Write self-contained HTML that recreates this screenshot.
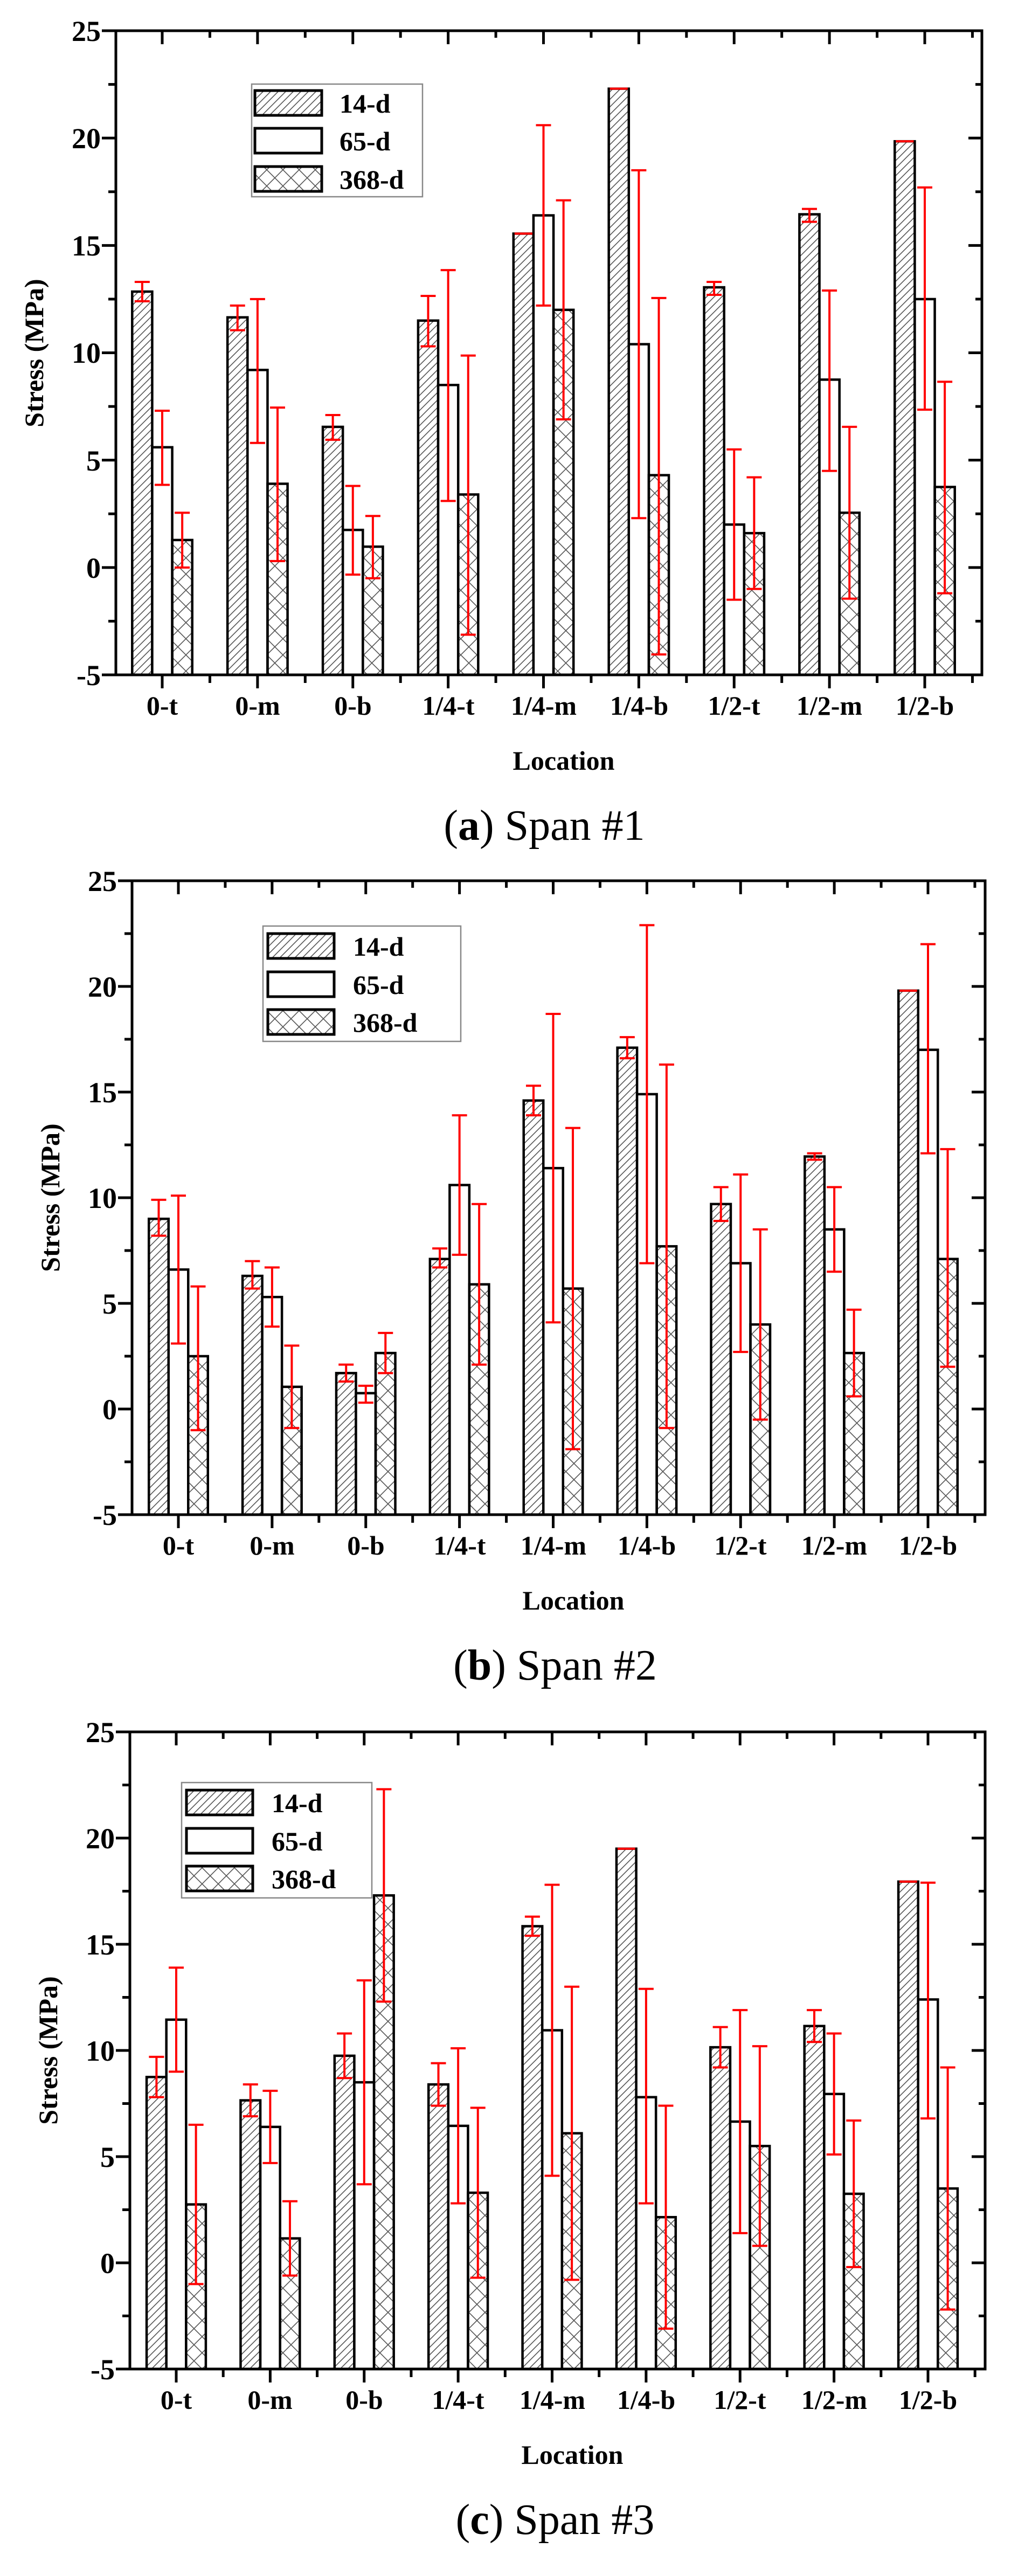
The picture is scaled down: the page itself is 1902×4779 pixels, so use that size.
<!DOCTYPE html>
<html><head><meta charset="utf-8"><style>
html,body{margin:0;padding:0;background:#fff;}
svg{display:block;}
.t{font-family:"Liberation Serif",serif;font-weight:bold;font-size:54px;fill:#000;}
.x{font-family:"Liberation Serif",serif;font-weight:bold;font-size:50px;fill:#000;}
.cap{font-family:"Liberation Serif",serif;font-size:80px;fill:#000;}
</style></head><body>
<svg id="s" width="1902" height="4779" viewBox="0 0 1902 4779" xmlns="http://www.w3.org/2000/svg">
<defs>
<pattern id="hat" patternUnits="userSpaceOnUse" width="14" height="14"><path d="M-2,16 L16,-2 M-9,9 L9,-9 M5,23 L23,5" stroke="#555" stroke-width="1.6"/></pattern>
<pattern id="crs" patternUnits="userSpaceOnUse" width="30" height="30"><path d="M0,0 L30,30 M30,0 L0,30" stroke="#555" stroke-width="1.6"/></pattern>
</defs>
<g id="g"></g>
<g class="t" text-anchor="end">
<text x="187" y="76">25</text><text x="187" y="275">20</text><text x="187" y="474">15</text><text x="187" y="673">10</text><text x="187" y="873">5</text><text x="187" y="1072">0</text><text x="187" y="1271">-5</text>
<text x="217" y="1653">25</text><text x="217" y="1849">20</text><text x="217" y="2045">15</text><text x="217" y="2241">10</text><text x="217" y="2437">5</text><text x="217" y="2633">0</text><text x="217" y="2829">-5</text>
<text x="213" y="3232">25</text><text x="213" y="3429">20</text><text x="213" y="3626">15</text><text x="213" y="3823">10</text><text x="213" y="4020">5</text><text x="213" y="4217">0</text><text x="213" y="4414">-5</text>
</g>
<g class="x" text-anchor="middle">
<text x="301" y="1326">0-t</text><text x="478" y="1326">0-m</text><text x="655" y="1326">0-b</text><text x="832" y="1326">1/4-t</text><text x="1009" y="1326">1/4-m</text><text x="1186" y="1326">1/4-b</text><text x="1362" y="1326">1/2-t</text><text x="1539" y="1326">1/2-m</text><text x="1716" y="1326">1/2-b</text>
<text x="331" y="2884">0-t</text><text x="505" y="2884">0-m</text><text x="679" y="2884">0-b</text><text x="853" y="2884">1/4-t</text><text x="1027" y="2884">1/4-m</text><text x="1200" y="2884">1/4-b</text><text x="1374" y="2884">1/2-t</text><text x="1548" y="2884">1/2-m</text><text x="1722" y="2884">1/2-b</text>
<text x="327" y="4469">0-t</text><text x="501" y="4469">0-m</text><text x="676" y="4469">0-b</text><text x="850" y="4469">1/4-t</text><text x="1025" y="4469">1/4-m</text><text x="1199" y="4469">1/4-b</text><text x="1373" y="4469">1/2-t</text><text x="1548" y="4469">1/2-m</text><text x="1722" y="4469">1/2-b</text>
<text x="1046" y="1428">Location</text>
<text x="1064" y="2986">Location</text>
<text x="1062" y="4571">Location</text>
<text transform="translate(80,655) rotate(-90)">Stress (MPa)</text>
<text transform="translate(110,2222) rotate(-90)">Stress (MPa)</text>
<text transform="translate(106,3804) rotate(-90)">Stress (MPa)</text>
</g>
<g class="x">
<text x="630" y="209">14-d</text><text x="630" y="279">65-d</text><text x="630" y="350">368-d</text>
<text x="655" y="1773">14-d</text><text x="655" y="1844">65-d</text><text x="655" y="1914">368-d</text>
<text x="504" y="3362">14-d</text><text x="504" y="3433">65-d</text><text x="504" y="3503">368-d</text>
</g>
<g class="cap" text-anchor="middle">
<text x="1010" y="1558">(<tspan font-weight="bold">a</tspan>) Span #1</text>
<text x="1030" y="3116">(<tspan font-weight="bold">b</tspan>) Span #2</text>
<text x="1030" y="4701">(<tspan font-weight="bold">c</tspan>) Span #3</text>
</g>
</svg>
<script>
(function(){
var NS="http://www.w3.org/2000/svg",g=document.getElementById("g");
function el(n,a){var e=document.createElementNS(NS,n);for(var k in a)e.setAttribute(k,a[k]);g.appendChild(e);return e;}
function line(x1,y1,x2,y2,c,w){el("line",{x1:x1,y1:y1,x2:x2,y2:y2,stroke:c,"stroke-width":w});}
var charts=[
{L:215,R:1822,T:57,B:1252,leg:[467,156,784,365,473,597,[191,261,332]],d:[
[[12.85,13.3,12.4],[5.6,7.3,3.85],[1.28,2.55,0]],
[[11.65,12.2,11.05],[9.2,12.5,5.8],[3.9,7.45,0.3]],
[[6.55,7.1,5.95],[1.75,3.8,-0.33],[0.97,2.4,-0.5]],
[[11.5,12.65,10.3],[8.5,13.85,3.1],[3.4,9.87,-3.13]],
[[15.55,15.55,15.55],[16.4,20.6,12.2],[12,17.1,6.9]],
[[22.3,22.3,22.3],[10.4,18.5,2.3],[4.3,12.55,-4.05]],
[[13.05,13.3,12.7],[2.0,5.5,-1.5],[1.6,4.2,-1.0]],
[[16.45,16.7,16.1],[8.75,12.9,4.5],[2.55,6.55,-1.45]],
[[19.85,19.85,19.85],[12.5,17.7,7.35],[3.75,8.65,-1.2]]]},
{L:245,R:1828,T:1634,B:2810,leg:[488,1718,855,1932,497,620,[1755,1826,1896]],d:[
[[9.0,9.9,8.2],[6.6,10.1,3.1],[2.5,5.8,-1.0]],
[[6.3,7.0,5.7],[5.3,6.7,3.9],[1.05,3.0,-0.9]],
[[1.7,2.1,1.3],[0.75,1.1,0.3],[2.65,3.6,1.7]],
[[7.1,7.6,6.7],[10.6,13.9,7.3],[5.9,9.7,2.1]],
[[14.6,15.3,13.9],[11.4,18.7,4.1],[5.7,13.3,-1.9]],
[[17.1,17.6,16.6],[14.9,22.9,6.9],[7.7,16.3,-0.9]],
[[9.7,10.5,8.9],[6.9,11.1,2.7],[4.0,8.5,-0.5]],
[[11.95,12.1,11.8],[8.5,10.5,6.5],[2.65,4.7,0.6]],
[[19.8,19.8,19.8],[17.0,22.0,12.1],[7.1,12.3,2.0]]]},
{L:241,R:1828,T:3213,B:4395,leg:[337,3307,690,3521,346,469,[3344,3415,3485]],d:[
[[8.75,9.7,7.8],[11.45,13.9,9.0],[2.75,6.5,-1.0]],
[[7.65,8.4,6.9],[6.4,8.1,4.7],[1.15,2.9,-0.6]],
[[9.75,10.8,8.7],[8.5,13.3,3.7],[17.3,22.3,12.3]],
[[8.4,9.4,7.4],[6.45,10.1,2.8],[3.3,7.3,-0.7]],
[[15.85,16.3,15.4],[10.95,17.8,4.1],[6.1,13.0,-0.8]],
[[19.5,19.5,19.5],[7.8,12.9,2.8],[2.15,7.4,-3.1]],
[[10.15,11.1,9.2],[6.65,11.9,1.4],[5.5,10.2,0.8]],
[[11.15,11.9,10.4],[7.95,10.8,5.1],[3.25,6.7,-0.2]],
[[17.95,17.95,17.95],[12.4,17.9,6.8],[3.5,9.2,-2.2]]]}];
var fills=["url(#hat)","#fff","url(#crs)"];
charts.forEach(function(c){
 var u=(c.B-c.T)/30,Y=function(v){return c.B-(v+5)*u;};
 var sp=(c.R-c.L-192)/8,w=sp*0.21;
 var L=c.leg;
 el("rect",{x:L[0],y:L[1],width:L[2]-L[0],height:L[3]-L[1],fill:"#fff",stroke:"#888","stroke-width":2.5});
 L[6].forEach(function(ry,j){
  el("rect",{x:L[4],y:ry-23,width:L[5]-L[4],height:46,fill:fills[j],stroke:"#000","stroke-width":5});
 });
 c.d.forEach(function(grp,i){
  var cx=c.L+86+i*sp;
  grp.forEach(function(b,j){
   var x=cx+(j-1)*w-w/2;
   el("rect",{x:x,y:Y(b[0]),width:w,height:c.B-Y(b[0]),fill:fills[j],stroke:"#000","stroke-width":4.5});
  });
  grp.forEach(function(b,j){
   var x=cx+(j-1)*w;
   if(b[1]-b[2]<0.05){line(x-w/2+2,Y(b[0]),x+w/2-2,Y(b[0]),"#f00",4);return;}
   line(x,Y(b[1]),x,Y(b[2]),"#f00",4);
   line(x-14,Y(b[1]),x+14,Y(b[1]),"#f00",4);
   line(x-14,Y(b[2]),x+14,Y(b[2]),"#f00",4);
  });
 });
 el("rect",{x:c.L,y:c.T,width:c.R-c.L,height:c.B-c.T,fill:"none",stroke:"#000","stroke-width":5});
 for(var k=0;k<=12;k++){
  var v=-5+k*2.5,y=Y(v),maj=(k%2==0);
  line(c.L-(maj?26:14),y,c.L,y,"#000",5);
  line(c.R-(maj?25:12),y,c.R,y,"#000",5);
 }
 for(var k=-1;k<=18;k++){
  var x=c.L+86+k*sp/2; if(x<=c.L+3||x>=c.R-3)continue;
  var maj=(k%2==0);
  line(x,c.B,x,c.B+(maj?25:15),"#000",5);
  line(x,c.T,x,c.T+(maj?25:13),"#000",5);
 }
});
})();
</script>
</body></html>
